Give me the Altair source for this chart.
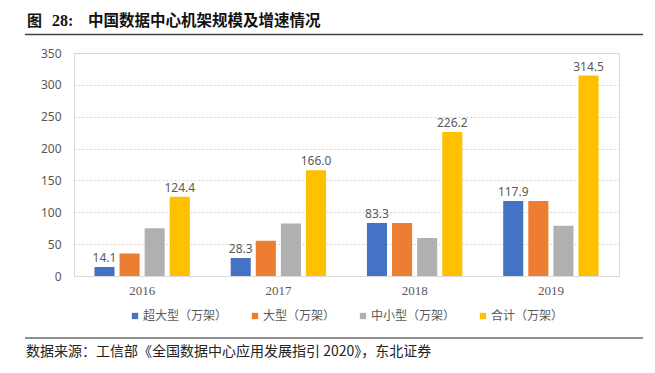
import altair as alt
import pandas as pd

years = ["2016", "2017", "2018", "2019"]
series = ["超大型（万架）", "大型（万架）", "中小型（万架）", "合计（万架）"]
hyper = [14.1, 28.3, 83.3, 117.9]
large = [35.3, 55.3, 83.3, 117.9]
small = [75.0, 82.4, 59.6, 78.7]
total = [124.4, 166.0, 226.2, 314.5]
colors = ["#4472C4", "#ED7D31", "#B0B0B0", "#FFC000"]
labeled = ["超大型（万架）", "合计（万架）"]
y_ticks = [0, 50, 100, 150, 200, 250, 300, 350]

title_fig = "图"
title_num = "28:"
title_main = "中国数据中心机架规模及增速情况"
source = "数据来源：工信部《全国数据中心应用发展指引 2020》，东北证券"

rows = []
for i, y in enumerate(years):
    for s, vals in zip(series, [hyper, large, small, total]):
        rows.append({"year": y, "series": s, "value": vals[i]})
df = pd.DataFrame(rows)

W, H = 545, 223

xscale = alt.Scale(paddingInner=0.3, paddingOuter=0.15)
yscale = alt.Scale(domain=[0, 350], nice=False)

x = alt.X("year:N", sort=years, title=None, scale=xscale,
          axis=alt.Axis(labelAngle=0, labelFont="Liberation Serif", labelFontSize=13,
                        labelColor="#595959", ticks=False, domainColor="#D9D9D9",
                        labelPadding=8, grid=False))
xo = alt.XOffset("series:N", sort=series, scale=alt.Scale(paddingInner=0.2, paddingOuter=0))
y = alt.Y("value:Q", title=None, scale=yscale,
          axis=alt.Axis(values=y_ticks, labelFont="Noto Sans", labelFontSize=12,
                        labelColor="#595959", ticks=False, domainColor="#D9D9D9",
                        labelPadding=13, labelOverlap=False, gridColor="#D0D0D0",
                        gridDash=[2, 2], gridWidth=1))

bars = alt.Chart(df).mark_bar().encode(
    x=x, xOffset=xo, y=y,
    color=alt.Color("series:N", sort=series,
                    scale=alt.Scale(domain=series, range=colors),
                    legend=alt.Legend(title=None, orient="none", direction="horizontal",
                                      legendX=55, legendY=257, symbolType="square",
                                      symbolSize=40, symbolStrokeWidth=0,
                                      labelFont="Noto Sans CJK SC", labelFontSize=12,
                                      labelColor="#595959", labelOffset=2,
                                      columnPadding=21, padding=0)),
)

labels = alt.Chart(df).transform_filter(
    alt.FieldOneOfPredicate(field="series", oneOf=labeled)
).mark_text(dy=-9, font="Noto Sans", fontSize=12, color="#595959").encode(
    x=x, xOffset=xo, y=y,
    text=alt.Text("value:Q", format=".1f"),
)

deco = pd.DataFrame({"k": [0]})
top_line = alt.Chart(deco).mark_rule(color="#404040", strokeWidth=1.5).encode(
    x=alt.value(-49), x2=alt.value(569), y=alt.value(-18.5))
bot_line = alt.Chart(deco).mark_rule(color="#202020", strokeWidth=1).encode(
    x=alt.value(-49), x2=alt.value(569), y=alt.value(285))

t1 = alt.Chart(deco).mark_text(text=title_fig, align="left", baseline="middle",
                               font="Noto Sans CJK SC", fontWeight="bold", fontSize=15,
                               color="#111111").encode(x=alt.value(-47), y=alt.value(-32))
t2 = alt.Chart(deco).mark_text(text=title_num, align="left", baseline="middle",
                               font="Liberation Serif", fontWeight="bold", fontSize=16,
                               color="#111111").encode(x=alt.value(-22), y=alt.value(-32))
t3 = alt.Chart(deco).mark_text(text=title_main, align="left", baseline="middle",
                               font="Noto Sans CJK SC", fontWeight="bold", fontSize=15.5,
                               color="#111111").encode(x=alt.value(14), y=alt.value(-32))
src = alt.Chart(deco).mark_text(text=source, align="left", baseline="middle",
                                font="Noto Sans CJK SC", fontSize=14,
                                color="#222222").encode(x=alt.value(-48), y=alt.value(299))

chart = alt.layer(bars, labels, top_line, bot_line, t1, t2, t3, src).properties(
    width=W, height=H,
    autosize=alt.AutoSizeParams(type="none"),
    padding={"left": 66, "top": 45, "right": 26, "bottom": 85},
).configure_view(stroke=None).configure(background="white")

chart.save("out.html", embed_options={"renderer": "svg", "actions": False})
